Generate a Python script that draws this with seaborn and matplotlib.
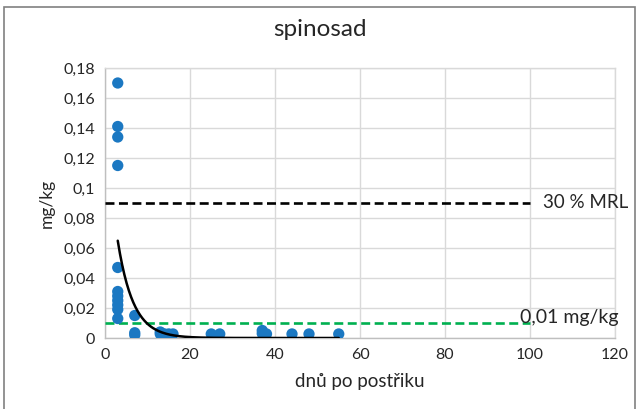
import numpy as np
import pandas as pd
import matplotlib
matplotlib.use("Agg")
import matplotlib.pyplot as plt
from matplotlib.patches import Rectangle
import seaborn as sns

# ---- data ----
days = [3, 3, 3, 3, 3, 3, 3, 3, 3, 3, 3,
        7, 7, 7,
        13, 13, 14, 15, 16,
        25, 27,
        37, 37, 38,
        44, 48, 55]
residue = [0.170, 0.141, 0.134, 0.115, 0.047, 0.031, 0.028, 0.025, 0.022, 0.019, 0.013,
           0.015, 0.0035, 0.002,
           0.004, 0.0027, 0.0027, 0.0027, 0.0027,
           0.0027, 0.0027,
           0.005, 0.003, 0.0027,
           0.0027, 0.0027, 0.0027]

# exponential trendline y = a * exp(b * x)
trend_a = 0.148
trend_b = -0.275
trend_x_range = [3, 55]

mrl30_value = 0.09
loq_value = 0.01
ref_x_range = [0, 100]

title = "spinosad"
xlabel = "dnů po postřiku"
ylabel = "mg/kg"
mrl_label = "30 % MRL"
loq_label = "0,01 mg/kg"
x_ticks = [0, 20, 40, 60, 80, 100, 120]
y_ticks = [0, 0.02, 0.04, 0.06, 0.08, 0.10, 0.12, 0.14, 0.16, 0.18]
y_tick_labels = ["0", "0,02", "0,04", "0,06", "0,08", "0,1", "0,12", "0,14", "0,16", "0,18"]

# ---- plotting ----
sns.set_style("white")
plt.rcParams["font.family"] = ["Lato", "DejaVu Sans"]

fig = plt.figure(figsize=(6.39, 4.09), dpi=100)
ax = fig.add_axes([105/639, 1 - 338/409, (615 - 105)/639, (338 - 68)/409])

df = pd.DataFrame({"days": days, "residue": residue})

tx = np.linspace(trend_x_range[0], trend_x_range[1], 300)
trend_df = pd.DataFrame({"x": tx, "y": trend_a * np.exp(trend_b * tx)})

ref_df_mrl = pd.DataFrame({"x": ref_x_range, "y": [mrl30_value] * 2})
ref_df_loq = pd.DataFrame({"x": ref_x_range, "y": [loq_value] * 2})

sns.lineplot(data=ref_df_mrl, x="x", y="y", ax=ax, color="black", lw=1.9,
             zorder=3).lines[-1].set_dashes((3.4, 1.7))
sns.lineplot(data=ref_df_loq, x="x", y="y", ax=ax, color="#00b050", lw=1.9,
             zorder=3).lines[-1].set_dashes((3.4, 1.7))

sns.scatterplot(data=df, x="days", y="residue", ax=ax, color="#1b78c2",
                s=66, edgecolor="none", zorder=4)
sns.lineplot(data=trend_df, x="x", y="y", ax=ax, color="black", lw=1.8, zorder=5)

ax.set_xlim(0, 120)
ax.set_ylim(0, 0.18)
ax.set_xticks(x_ticks)
ax.set_yticks(y_ticks)
ax.set_yticklabels(y_tick_labels)
ax.tick_params(axis="both", labelsize=11.5, length=0, pad=7, colors="#262626")
ax.grid(True, color="#d9d9d9", lw=1)
ax.set_axisbelow(True)
for side in ["left", "bottom", "right", "top"]:
    ax.spines[side].set_color("#d9d9d9")
    ax.spines[side].set_linewidth(1)
ax.spines["left"].set_color("#bfbfbf")
ax.spines["bottom"].set_color("#bfbfbf")

ax.set_xlabel(xlabel, fontsize=13.5, color="#262626", labelpad=8)
ax.set_ylabel(ylabel, fontsize=12.5, color="#262626", labelpad=6)

ax.text(103, mrl30_value, mrl_label, fontsize=13.5, va="center", ha="left",
        color="#262626", clip_on=False)
ax.text(97.6, loq_value + 0.0035, loq_label, fontsize=14, va="center", ha="left",
        color="#262626", clip_on=False)

fig.text(0.5, 1 - 30/409, title, fontsize=17.5, ha="center", va="center", color="#262626")

fig.patches.append(Rectangle((4/639, -0.05), 631/639, 1 - 7/409 + 0.05,
                             transform=fig.transFigure, fill=False,
                             edgecolor="#808080", lw=1.2))

fig.savefig("out.png", dpi=100)
